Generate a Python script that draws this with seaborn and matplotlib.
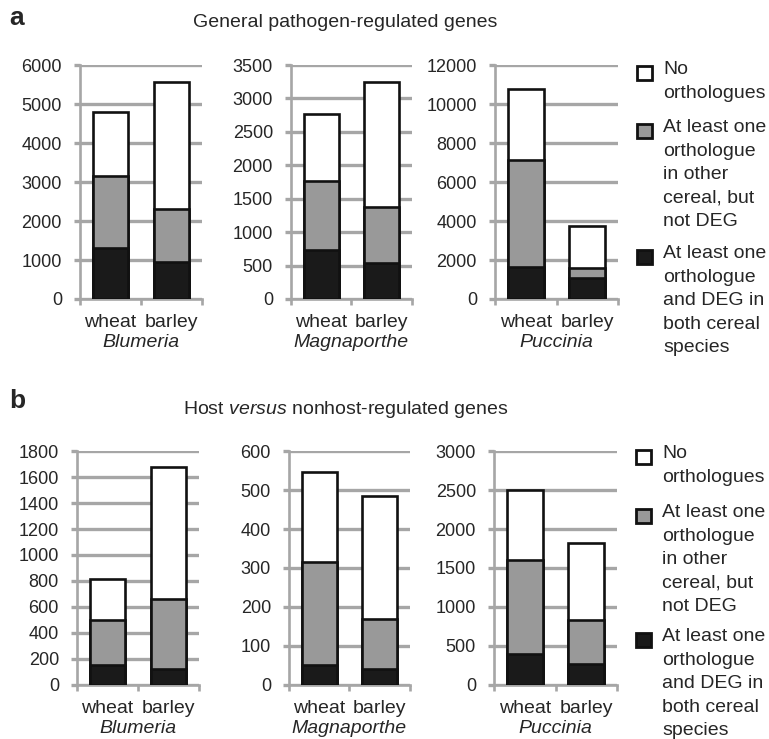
import numpy as np
import pandas as pd
import matplotlib
matplotlib.use("Agg")
import matplotlib.pyplot as plt
import seaborn as sns
from matplotlib.patches import Rectangle

hosts = ["wheat", "barley"]
pathogens = ["Blumeria", "Magnaporthe", "Puccinia"]

# panel a: general pathogen-regulated genes (segment counts per host)
a_deg = {"Blumeria": [1320, 960], "Magnaporthe": [740, 540], "Puccinia": [1650, 1100]}
a_orth = {"Blumeria": [1830, 1360], "Magnaporthe": [1020, 840], "Puccinia": [5500, 500]}
a_none = {"Blumeria": [1650, 3240], "Magnaporthe": [1010, 1870], "Puccinia": [3600, 2150]}
a_ymax = {"Blumeria": 6000, "Magnaporthe": 3500, "Puccinia": 12000}
a_step = {"Blumeria": 1000, "Magnaporthe": 500, "Puccinia": 2000}

# panel b: host versus nonhost-regulated genes
b_deg = {"Blumeria": [150, 125], "Magnaporthe": [50, 40], "Puccinia": [400, 270]}
b_orth = {"Blumeria": [350, 540], "Magnaporthe": [265, 130], "Puccinia": [1200, 560]}
b_none = {"Blumeria": [315, 1015], "Magnaporthe": [230, 315], "Puccinia": [900, 990]}
b_ymax = {"Blumeria": 1800, "Magnaporthe": 600, "Puccinia": 3000}
b_step = {"Blumeria": 200, "Magnaporthe": 100, "Puccinia": 500}

legend_labels = ["No\northologues",
                 "At least one\northologue\nin other\ncereal, but\nnot DEG",
                 "At least one\northologue\nand DEG in\nboth cereal\nspecies"]
legend_colors = ["white", "#999999", "#1a1a1a"]

sns.set_style("white")
plt.rcParams["font.family"] = ["Liberation Sans", "DejaVu Sans"]
plt.rcParams["mathtext.fontset"] = "custom"
plt.rcParams["mathtext.rm"] = "Liberation Sans"
plt.rcParams["mathtext.it"] = "Liberation Sans:italic"

GRID = "#a6a6a6"
EDGE = "#111111"
W, H = 769, 739
fig = plt.figure(figsize=(W / 100, H / 100), dpi=100)

lefts_a = [0.104, 0.3784, 0.6437]
lefts_b = [0.1001, 0.3758, 0.6424]
widths = [0.1587, 0.157, 0.16]


def draw(ax, pathogen, deg, orth, none, ymax, step):
    df = pd.DataFrame({"host": hosts, "deg": deg, "orth": orth, "none": none})
    df["mid"] = df["deg"] + df["orth"]
    df["total"] = df["mid"] + df["none"]
    for col, color in zip(["total", "mid", "deg"], legend_colors):
        sns.barplot(data=df, x="host", y=col, color=color, edgecolor=EDGE,
                    linewidth=1.9, width=0.585, ax=ax, zorder=3, saturation=1)
    ax.set_ylim(0, ymax)
    ax.set_xlim(-0.5, 1.5)
    ax.set_yticks(np.arange(0, ymax + 1, step))
    ax.yaxis.grid(True, color=GRID, linewidth=2.4, zorder=0)
    ax.set_axisbelow(True)
    for s in ["top", "right"]:
        ax.spines[s].set_visible(False)
    for s in ["left", "bottom"]:
        ax.spines[s].set_color(GRID)
        ax.spines[s].set_linewidth(1.9)
    ax.tick_params(axis="y", length=4, width=2.4, color=GRID, labelsize=13, pad=9, left=True)
    ax.set_xticks([0, 1])
    ax.set_xticklabels(hosts)
    ax.set_xticks([-0.5, 0.5, 1.5], minor=True)
    ax.tick_params(axis="x", which="major", length=0, labelsize=14, pad=11)
    ax.tick_params(axis="x", which="minor", length=4, width=1.9, color=GRID, bottom=True)
    ax.set_xlabel(pathogen, fontsize=14, style="italic", labelpad=2)
    ax.set_ylabel("")


def draw_legend(ax, tops_px):
    pos = ax.get_position()
    x0 = pos.x1 + 19 / W
    for label, color, top in zip(legend_labels, legend_colors, tops_px):
        y = pos.y1 - top / H
        fig.add_artist(Rectangle((x0, y - 15 / H), 15 / W, 14 / H, transform=fig.transFigure,
                                 facecolor=color, edgecolor=EDGE, linewidth=2.0))
        fig.text(x0 + 26 / W, y + 4 / H, label, ha="left", va="top", fontsize=14,
                 linespacing=1.5)


axes_a, axes_b = [], []
for i, p in enumerate(pathogens):
    ax = fig.add_axes([lefts_a[i], 0.5954, widths[i], 0.3166])
    draw(ax, p, a_deg[p], a_orth[p], a_none[p], a_ymax[p], a_step[p])
    axes_a.append(ax)
    ax = fig.add_axes([lefts_b[i], 0.0731, widths[i], 0.3166])
    draw(ax, p, b_deg[p], b_orth[p], b_none[p], b_ymax[p], b_step[p])
    axes_b.append(ax)

draw_legend(axes_a[-1], [0, 58, 184])
draw_legend(axes_b[-1], [-2, 57, 181])

fig.text(0.449, 0.970, "General pathogen-regulated genes", ha="center", va="center", fontsize=14)
fig.text(0.449, 0.446, "Host $\\it{versus}$ nonhost-regulated genes", ha="center", va="center", fontsize=14)
fig.text(0.012, 0.975, "a", fontsize=19, fontweight="bold", ha="left", va="center")
fig.text(0.012, 0.458, "b", fontsize=19, fontweight="bold", ha="left", va="center")

fig.savefig("out.png", dpi=100)
